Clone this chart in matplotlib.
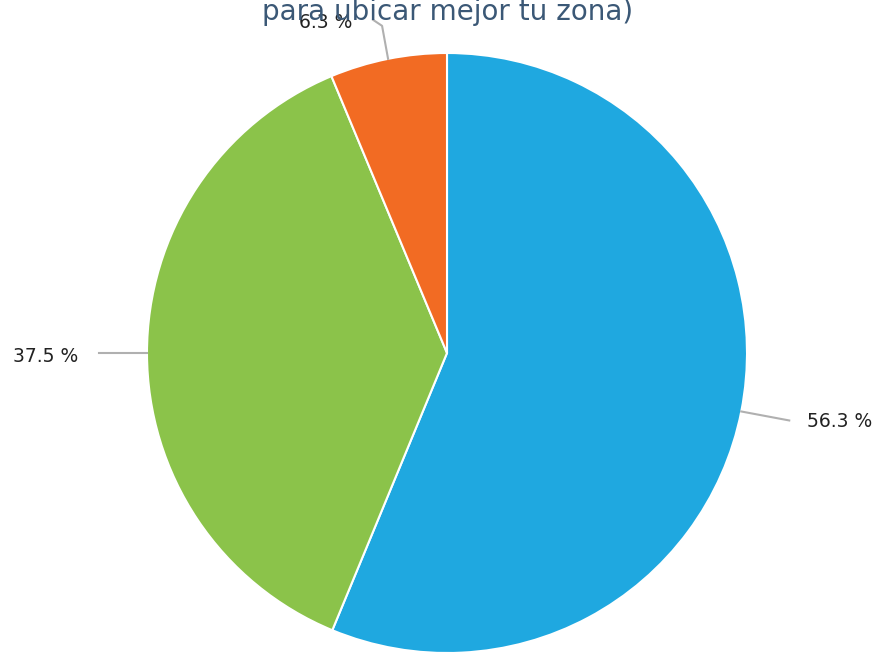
import numpy as np
import matplotlib.pyplot as plt

labels = ["56.3 %", "37.5 %", "6.3 %"]
values = [56.3, 37.5, 6.3]
colors = ["#1fa8e0", "#8bc34a", "#f26b23"]
title_tail = "para ubicar mejor tu zona)"

W, H = 878, 654
fig = plt.figure(figsize=(W / 100, H / 100), dpi=100)
cx, cy, r = 447, 353, 300
ax = fig.add_axes([(cx - r) / W, (H - cy - r) / H, 2 * r / W, 2 * r / H])

wedges, _ = ax.pie(values, colors=colors, startangle=90, counterclock=False,
                   radius=1, wedgeprops=dict(edgecolor="white", linewidth=1.5))
ax.set_xlim(-1, 1)
ax.set_ylim(-1, 1)
ax.set_aspect("equal")
ax.axis("off")

line_kw = dict(color="#b0b0b0", lw=1.5, clip_on=False)
txt_kw = dict(fontsize=13.5, color="#222222", va="center", clip_on=False)

# blue slice label (right)
w = wedges[0]
a = np.deg2rad((w.theta1 + w.theta2) / 2)
x0, y0 = np.cos(a), np.sin(a)
ax.plot([x0, x0 + 0.16], [y0, y0 - 0.03], **line_kw)
ax.text(x0 + 0.22, y0 - 0.035, labels[0], ha="left", **txt_kw)

# green slice label (left)
w = wedges[1]
a = np.deg2rad((w.theta1 + w.theta2) / 2)
x0, y0 = np.cos(a), np.sin(a)
ax.plot([x0, x0 - 0.16], [y0, y0], **line_kw)
ax.text(x0 - 0.23, y0 - 0.01, labels[1], ha="right", **txt_kw)

# orange slice label (top)
w = wedges[2]
a = np.deg2rad((w.theta1 + w.theta2) / 2)
x0, y0 = np.cos(a), np.sin(a)
ax.plot([x0, x0 - 0.02, x0 - 0.05], [y0, y0 + 0.11, y0 + 0.13], **line_kw)
ax.text(x0 - 0.12, y0 + 0.12, labels[2], ha="right", **txt_kw)

fig.text(0.51, 1 - 20 / H, title_tail, ha="center", va="baseline",
         fontsize=20, color="#3b5876")

fig.savefig("out.png", dpi=100)
